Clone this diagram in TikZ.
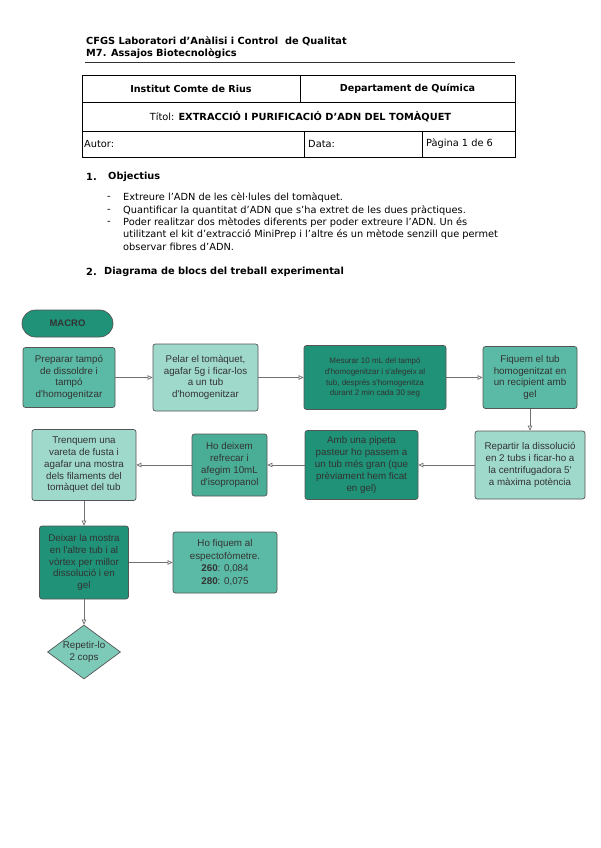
\documentclass[tikz,border=0pt]{standalone}
\usepackage{fontspec}
\setmainfont{DejaVu Sans}
\newfontfamily\diagfont{Liberation Sans}
\usetikzlibrary{arrows.meta,shapes.geometric}
\definecolor{dkT}{HTML}{1F9277}
\definecolor{mdT}{HTML}{5BBAA5}
\definecolor{mlT}{HTML}{4AAE96}
\definecolor{ltT}{HTML}{9FD9CC}
\definecolor{dmT}{HTML}{7ECAB9}
\definecolor{edgeC}{HTML}{555555}
\definecolor{txtC}{HTML}{333333}
\definecolor{lineC}{HTML}{707070}
\begin{document}
\begin{tikzpicture}[x=1pt,y=-1pt,
  txt/.style={inner sep=0pt, anchor=west, text=black, font=\fontsize{9.8}{12}\selectfont},
  hdr/.style={inner sep=0pt, anchor=west, text=black, font=\bfseries\fontsize{9.8}{12}\selectfont},
  cell/.style={inner sep=0pt, text=black, font=\fontsize{9.8}{12}\selectfont},
  boxA/.style={draw=edgeC, line width=0.7pt, rounded corners=2.5pt, align=center, inner sep=1pt, text=txtC, font=\diagfont\fontsize{9.8}{11.8}\selectfont},
  conn/.style={draw=lineC, line width=0.7pt, -{Triangle[open,length=5pt,width=4.5pt]}},
]
\useasboundingbox[fill=white] (0,0) rectangle (600,848);

% header
\node[hdr] (h1) at (86,41) {CFGS Laboratori d'Anàlisi i Control\ \ de Qualitat};
\node[hdr] (h2) at (86,54) {M7. Assajos Biotecnològics};
\draw[line width=0.9pt, black!80] (85,62) -- (515,62);

% table
\draw[line width=0.9pt] (82,75) rectangle (515,157);
\draw[line width=0.9pt] (82,102) -- (515,102) (82,131) -- (515,131);
\draw[line width=0.9pt] (300,75) -- (300,102) (304,131) -- (304,157) (422,131) -- (422,157);
\node[cell, font=\bfseries\fontsize{9.6}{12}\selectfont] (t1) at (191,88.5) {Institut Comte de Rius};
\node[cell, font=\bfseries\fontsize{9.6}{12}\selectfont] (t2) at (407.5,88.5) {Departament de Química};
\node[cell] (t3) at (300.5,116.5) {Títol: \textbf{EXTRACCIÓ I PURIFICACIÓ D'ADN DEL TOMÀQUET}};
\node[txt] (t4) at (84,144) {Autor:};
\node[txt] (t5) at (308,144) {Data:};
\node[txt] (t6) at (426,144) {Pàgina 1 de 6};

% objectives
\node[hdr] (o1) at (86,177) {1.};
\node[hdr] (o2) at (108,177) {Objectius};
\node[txt] (d1) at (107,198) {-};
\node[txt] (d2) at (107,211) {-};
\node[txt] (d3) at (107,223) {-};
\node[txt] (l1) at (123,198) {Extreure l'ADN de les cèl·lules del tomàquet.};
\node[txt] (l2) at (123,211) {Quantificar la quantitat d'ADN que s'ha extret de les dues pràctiques.};
\node[txt] (l3) at (123,223) {Poder realitzar dos mètodes diferents per poder extreure l'ADN. Un és};
\node[txt] (l4) at (123,235) {utilitzant el kit d'extracció MiniPrep i l'altre és un mètode senzill que permet};
\node[txt] (l5) at (123,247) {observar fibres d'ADN.};
\node[hdr] (s1) at (86,272) {2.};
\node[hdr] (s2) at (104,272) {Diagrama de blocs del treball experimental};

% diagram
\node[draw=edgeC, line width=0.7pt, fill=dkT, rounded corners=13.5pt, minimum width=91pt, minimum height=27pt, text=txtC, font=\diagfont\bfseries\fontsize{9.5}{11}\selectfont] (macro) at (67.5,323.5) {MACRO};

\node[boxA, fill=mdT, minimum width=92pt, minimum height=60pt] (b1) at (69,377.5) {Preparar tampó\\de dissoldre i\\tampó\\d'homogenitzar};
\node[boxA, fill=ltT, minimum width=105pt, minimum height=67pt] (b2) at (205.5,377.5) {Pelar el tomàquet,\\agafar 5g i ficar-los\\a un tub\\d'homogenitzar};
\node[boxA, fill=dkT, minimum width=142pt, minimum height=64pt, font=\diagfont\fontsize{8}{10.8}\selectfont] (b3) at (375,377.5) {Mesurar 10 mL del tampó\\d'homogenitzar i s'afegeix al\\tub, després s'homogenitza\\durant 2 min cada 30 seg};
\node[boxA, fill=mdT, minimum width=94pt, minimum height=62pt] (b4) at (530,377.5) {Fiquem el tub\\homogenitzat en\\un recipient amb\\gel};

\node[boxA, fill=ltT, minimum width=110pt, minimum height=68pt] (b5) at (530,465) {Repartir la dissolució\\en 2 tubs i ficar-ho a\\la centrifugadora 5'\\a màxima potència};
\node[boxA, fill=dkT, minimum width=113pt, minimum height=69pt] (b6) at (361.5,465) {Amb una pipeta\\pasteur ho passem a\\un tub més gran (que\\prèviament hem ficat\\en gel)};
\node[boxA, fill=mlT, minimum width=75pt, minimum height=62pt] (b7) at (229.5,465) {Ho deixem\\refrecar i\\afegim 10mL\\d'isopropanol};
\node[boxA, fill=ltT, minimum width=104pt, minimum height=71pt] (b8) at (84,465) {Trenquem una\\vareta de fusta i\\agafar una mostra\\dels filaments del\\tomàquet del tub};

\node[boxA, fill=dkT, minimum width=89pt, minimum height=73pt] (b9) at (84,562.5) {Deixar la mostra\\en l'altre tub i al\\vòrtex per millor\\dissolució i en\\gel};
\node[boxA, fill=mdT, minimum width=104pt, minimum height=61pt, font=\diagfont\fontsize{9.8}{12.6}\selectfont] (b10) at (225,562.5) {Ho fiquem al\\espectofòmetre.\\\textbf{260}: 0,084\\\textbf{280}: 0,075};

\node[diamond, draw=edgeC, line width=0.7pt, fill=dmT, minimum width=73pt, minimum height=54pt, inner sep=0pt] (dm) at (84,652) {};
\node[align=center, inner sep=0pt, text=txtC, font=\diagfont\fontsize{9.8}{11.8}\selectfont] (dmt) at (dm) {Repetir-lo\\2 cops};

\draw[conn] (b1) -- (b2);
\draw[conn] (b2) -- (b3);
\draw[conn] (b3) -- (b4);
\draw[conn] (b4) -- (b5);
\draw[conn] (b5) -- (b6);
\draw[conn] (b6) -- (b7);
\draw[conn] (b7) -- (b8);
\draw[conn] (b8) -- (b9);
\draw[conn] (b9) -- (b10);
\draw[conn] (b9) -- (dm);
\end{tikzpicture}
\end{document}
